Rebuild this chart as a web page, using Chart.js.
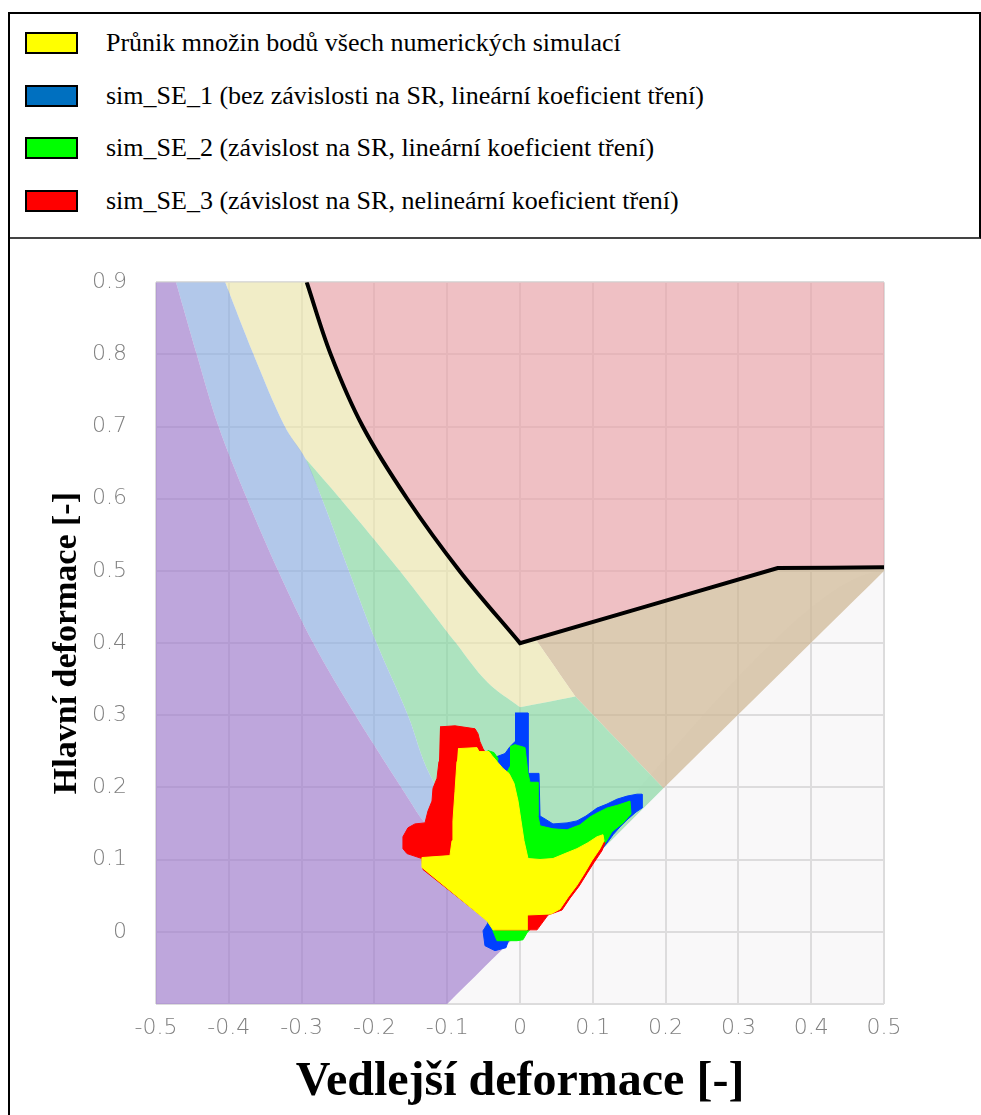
<!DOCTYPE html>
<html>
<head>
<meta charset="utf-8">
<script src="https://cdn.jsdelivr.net/npm/chart.js@4.4.0/dist/chart.umd.min.js"></script>
<style>
  body { margin: 0; background: #fff; }
  #page { position: relative; width: 981px; height: 1115px; overflow: hidden; }
  .legendBox { position: absolute; left: 8px; top: 12px; width: 969px; height: 223px;
    border: 2px solid #000; border-bottom-color: #444; }
  .leftLine { position: absolute; left: 8px; top: 237px; width: 2px; height: 878px; background: #000; z-index: 2; }
  .swatch { position: absolute; left: 25px; width: 49px; height: 18px; border: 2px solid #000; }
  .legText { position: absolute; left: 106px; height: 22px; line-height: 22px; white-space: nowrap;
    font-family: "Liberation Serif", "Times New Roman", serif; font-size: 26px; color: #000; }
  #fld { position: absolute; left: 0; top: 240px; }
</style>
</head>
<body>
<div id="page">
  <div class="legendBox"></div>
  <div id="legend"></div>
  <canvas id="fld" width="981" height="875"></canvas>
  <div class="leftLine"></div>
</div>
<script>
// legend
const legendLabels = [
  'Průnik množin bodů všech numerických simulací',
  'sim_SE_1 (bez závislosti na SR, lineární koeficient tření)',
  'sim_SE_2 (závislost na SR, lineární koeficient tření)',
  'sim_SE_3 (závislost na SR, nelineární koeficient tření)'
]
const legendColors = ['#ffff00', '#0070c0', '#00ff00', '#ff0000']

// axes
const xTickLabels = ['-0.5','-0.4','-0.3','-0.2','-0.1','0','0.1','0.2','0.3','0.4','0.5']
const yTickLabels = ['','0','0.1','0.2','0.3','0.4','0.5','0.6','0.7','0.8','0.9']

// zone boundaries of the forming limit diagram (minor strain, major strain)
const purpleEdge = [[-0.4725,0.9],[-0.444,0.8],[-0.414,0.7],[-0.375,0.6],[-0.332,0.5],[-0.284,0.4],[-0.226,0.3],[-0.151,0.181],[-0.133,0.154],[0,0]]
const blueEdge = [[-0.405,0.9],[-0.366,0.8],[-0.323,0.7],[-0.295,0.656],[-0.272,0.6],[-0.235,0.5],[-0.197,0.4],[-0.154,0.3],[-0.124,0.218],[0,0]]
const greenEdge = [[-0.295,0.656],[-0.247,0.6],[-0.165,0.5],[-0.088,0.4],[-0.045,0.346],[0,0.311]]
const flcLeft = [[-0.293,0.9],[-0.26,0.8],[-0.216,0.7],[-0.155,0.6],[-0.083,0.5],[0,0.4]]
const flcRight = [[0,0.4],[0.354,0.504],[0.5,0.505]]
const kneeA = [0.021,0.406]
const kneeB = [0.076,0.326]
const kneeC = [0.197,0.199]

// simulation point sets
const blueBlob = [[-0.0069,0.3032],[0.011,0.3032],[0.011,0.2195],[0.0261,0.2195],[0.0275,0.1605],[0.0343,0.1564],[0.0453,0.1495],[0.0646,0.1509],[0.0783,0.1537],[0.0907,0.1605],[0.1058,0.1715],[0.1195,0.177],[0.1333,0.1838],[0.147,0.188],[0.1608,0.1907],[0.1676,0.1907],[0.1676,0.1715],[0.1594,0.166],[0.1484,0.1564],[0.1374,0.1454],[0.1278,0.1345],[0.1209,0.1249],[0.1099,0.1111],[0.0756,0.0713],[-0.0165,-0.0137],[-0.0192,-0.022],[-0.0344,-0.0261],[-0.0481,-0.0192],[-0.0508,0.0014],[-0.044,0.0123],[-0.0687,0.1125],[-0.055,0.236],[-0.0316,0.2428],[-0.0206,0.247],[-0.0137,0.2566],[-0.0069,0.2634]]
const greenBlob = [[-0.0137,0.2566],[-0.0069,0.2593],[0.0069,0.2552],[0.011,0.2195],[0.0137,0.2072],[0.0247,0.2072],[0.0247,0.1605],[0.0275,0.1468],[0.0453,0.1427],[0.0646,0.1413],[0.0824,0.1482],[0.0962,0.1592],[0.1058,0.1646],[0.1195,0.1715],[0.1347,0.1756],[0.1511,0.1811],[0.1525,0.1633],[0.1415,0.1509],[0.1264,0.1386],[0.1182,0.1249],[0.1099,0.1125],[0.0756,0.0713],[0.0096,-0.0014],[0.0041,-0.011],[-0.0041,-0.0123],[-0.0316,-0.0123],[-0.0371,0.0014],[-0.0481,0.0439],[-0.0687,0.1811],[-0.0467,0.2415],[-0.044,0.2511],[-0.0357,0.2483],[-0.0302,0.2401],[-0.0316,0.2332],[-0.0179,0.2209],[-0.0137,0.2291]]
const redBlob = [[-0.1099,0.284],[-0.0893,0.2854],[-0.0618,0.2813],[-0.0577,0.2744],[-0.055,0.2634],[-0.0508,0.2538],[-0.0467,0.247],[-0.0206,0.2195],[-0.0096,0.2017],[-0.0055,0.1537],[0.0082,0.0988],[0.0343,0.096],[0.0618,0.1015],[0.1072,0.1262],[0.1168,0.1235],[0.1127,0.1125],[0.1017,0.096],[0.0921,0.0809],[0.0811,0.0631],[0.0687,0.0466],[0.0577,0.0302],[0.0385,0.0233],[0.0234,0.0027],[-0.0344,0.0027],[-0.0426,0.0137],[-0.1333,0.0864],[-0.1347,0.1015],[-0.1553,0.1084],[-0.1608,0.1152],[-0.1608,0.1317],[-0.1539,0.1441],[-0.1443,0.1495],[-0.1305,0.1509],[-0.1264,0.1674],[-0.1209,0.1811],[-0.1195,0.1989],[-0.114,0.2127],[-0.1113,0.236]]
const yellowBlob = [[-0.0852,0.2538],[-0.0591,0.2552],[-0.0563,0.2497],[-0.0426,0.2497],[-0.0385,0.2442],[-0.0316,0.236],[-0.0234,0.2264],[-0.0151,0.2195],[-0.0082,0.2058],[-0.0027,0.1811],[0.0014,0.1537],[0.0055,0.1262],[0.011,0.1015],[0.0275,0.1002],[0.0453,0.1015],[0.0618,0.1084],[0.0783,0.1152],[0.0934,0.1235],[0.1058,0.1317],[0.114,0.1345],[0.1154,0.1262],[0.1099,0.1152],[0.0989,0.0988],[0.0893,0.0823],[0.0783,0.0645],[0.066,0.048],[0.055,0.0316],[0.0426,0.0247],[0.0096,0.0233],[0.0096,0.0027],[-0.0371,0.0027],[-0.0453,0.0151],[-0.1347,0.0892],[-0.1347,0.1029],[-0.0962,0.1056],[-0.0934,0.1262],[-0.0921,0.1537],[-0.0893,0.1948],[-0.0866,0.236]]

const pts = arr => arr.map(p => ({x: p[0], y: p[1]}))
const rev = arr => arr.slice().reverse()
// join boundary pieces; shared end points are kept twice so corners stay sharp
const join = (...parts) => [].concat(...parts)

const zonePurple = join([[-0.5,-0.1],[-0.5,0.9]], [[-0.5,0.9],purpleEdge[0]], purpleEdge,
  [[0,0],[-0.1,-0.1]], [[-0.1,-0.1],[-0.5,-0.1]])
const zoneBlue = join(purpleEdge, rev(blueEdge), [blueEdge[0], purpleEdge[0]])
const zoneGreen = join(blueEdge.slice(3), [[0,0],kneeC], [kneeC,kneeB], [kneeB,[0,0.311]], rev(greenEdge))
const zoneYellow = join(blueEdge.slice(0,4), greenEdge, [[0,0.311],kneeB], [kneeB,kneeA], [kneeA,[0,0.4]],
  rev(flcLeft), [flcLeft[0], blueEdge[0]])
const zonePink = join(flcLeft, [[0,0.4],flcRight[1]], [flcRight[1],flcRight[2]], [flcRight[2],[0.5,0.9]],
  [[0.5,0.9],flcLeft[0]])
const zoneBrown = join([kneeA,flcRight[1]], [flcRight[1],flcRight[2]], [flcRight[2],[0.5,0.5]],
  [[0.5,0.5],kneeC], [kneeC,kneeB], [kneeB,kneeA])
const zoneGray = [[-0.1,-0.1],[0.5,0.5],[0.5,-0.1]]
const flcPath = join(flcLeft, [flcRight[0],flcRight[1]], [flcRight[1],flcRight[2]])

const area = (data, color, order) => ({
  data: pts(data), showLine: true, fill: 'shape', backgroundColor: color, tension: 0.35,
  borderColor: 'rgba(0,0,0,0)', borderWidth: 0, pointRadius: 0, order: order
})
const blob = (data, color, order) => ({
  data: pts(data), showLine: true, fill: 'shape', backgroundColor: color,
  borderColor: color, borderWidth: 1, pointRadius: 0, order: order
})

const legendDiv = document.getElementById('legend')
legendLabels.forEach((txt, i) => {
  const top = 32 + i * 52.7
  const sw = document.createElement('div')
  sw.className = 'swatch'
  sw.style.top = top + 'px'
  sw.style.background = legendColors[i]
  legendDiv.appendChild(sw)
  const t = document.createElement('div')
  t.className = 'legText'
  t.style.top = top + 'px'
  t.textContent = txt
  legendDiv.appendChild(t)
})

const tickFont = {family: 'DejaVu Sans', size: 22, weight: 300}

new Chart(document.getElementById('fld'), {
  type: 'scatter',
  data: {
    datasets: [
      area(zoneGray, 'rgba(225,221,225,0.2)', 20),
      area(zonePurple, 'rgba(162,128,205,0.7)', 19),
      area(zoneBlue, 'rgba(146,176,225,0.7)', 19),
      area(zoneGreen, 'rgba(138,215,164,0.7)', 19),
      area(zoneYellow, 'rgba(235,229,175,0.7)', 19),
      area(zonePink, 'rgba(232,165,171,0.7)', 19),
      area(zoneBrown, 'rgba(205,181,146,0.7)', 19),
      {data: pts(flcPath), showLine: true, fill: false, tension: 0.35,
        borderColor: '#000', borderWidth: 4, pointRadius: 0, order: 10},
      blob(blueBlob, 'rgb(0,64,255)', 4),
      blob(greenBlob, '#00ff00', 3),
      blob(redBlob, '#ff0000', 2),
      blob(yellowBlob, '#ffff00', 1)
    ]
  },
  options: {
    responsive: false,
    animation: false,
    devicePixelRatio: 1,
    layout: {padding: {top: 35, right: 97, bottom: 0, left: 0}},
    plugins: {legend: {display: false}, tooltip: {enabled: false}},
    scales: {
      x: {
        type: 'linear', min: -0.5, max: 0.5,
        ticks: {stepSize: 0.1, autoSkip: false, maxRotation: 0, padding: 11,
          color: '#808080', font: tickFont, callback: (v, i) => xTickLabels[i]},
        grid: {color: '#dcdcdc', lineWidth: 2, drawTicks: false},
        border: {display: false},
        title: {display: true, text: 'Vedlejší deformace [-]', color: '#000',
          font: {family: 'Liberation Serif', size: 48, weight: 'bold'}, padding: {top: 0, bottom: 4}},
        afterFit: s => { s.height = 111 }
      },
      y: {
        type: 'linear', min: -0.1, max: 0.9,
        ticks: {stepSize: 0.1, autoSkip: false, padding: 29,
          color: '#808080', font: tickFont, callback: (v, i) => yTickLabels[i]},
        grid: {color: '#dcdcdc', lineWidth: 2, drawTicks: false},
        border: {display: false},
        title: {display: true, text: 'Hlavní deformace [-]', color: '#000',
          font: {family: 'Liberation Serif', size: 34, weight: 'bold'}, padding: {top: 47, bottom: 0}},
        afterFit: s => { s.width = 156 }
      }
    }
  }
})
</script>
</body>
</html>
